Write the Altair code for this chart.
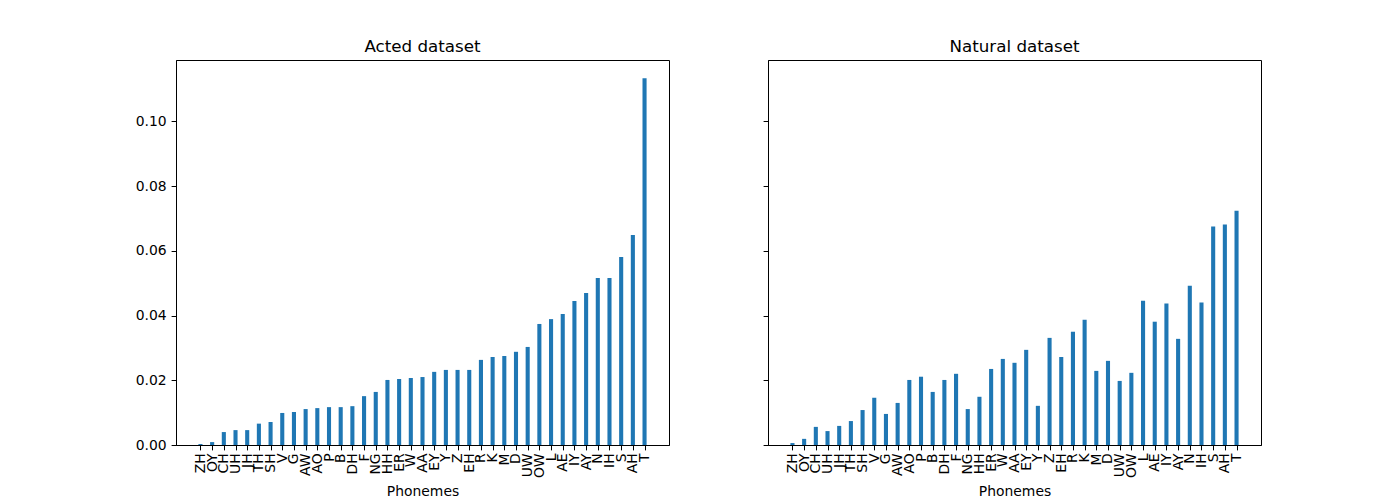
import altair as alt
import pandas as pd

phonemes = ["ZH", "OY", "CH", "UH", "JH", "TH", "SH", "V", "G", "AW", "AO", "P", "B", "DH",
            "F", "NG", "HH", "ER", "W", "AA", "EY", "Y", "Z", "EH", "R", "K", "M", "D", "UW",
            "OW", "L", "AE", "IY", "AY", "N", "IH", "S", "AH", "T"]

acted = [0.0003, 0.0009, 0.0040, 0.0046, 0.0046, 0.0066, 0.0071, 0.0099, 0.0102, 0.0111,
         0.0114, 0.0117, 0.0117, 0.0120, 0.0151, 0.0164, 0.0201, 0.0204, 0.0207, 0.0210,
         0.0226, 0.0232, 0.0232, 0.0232, 0.0263, 0.0272, 0.0275, 0.0288, 0.0303, 0.0374,
         0.0389, 0.0405, 0.0445, 0.0470, 0.0516, 0.0516, 0.0581, 0.0649, 0.1133]

natural = [0.0006, 0.0019, 0.0056, 0.0043, 0.0059, 0.0074, 0.0108, 0.0146, 0.0096, 0.0130,
           0.0201, 0.0211, 0.0164, 0.0201, 0.0220, 0.0111, 0.0149, 0.0235, 0.0266, 0.0254,
           0.0294, 0.0121, 0.0331, 0.0272, 0.0350, 0.0387, 0.0229, 0.0260, 0.0198, 0.0223,
           0.0446, 0.0381, 0.0437, 0.0328, 0.0492, 0.0440, 0.0675, 0.0681, 0.0724]

titles = ["Acted dataset", "Natural dataset"]
y_ticks = [0.0, 0.02, 0.04, 0.06, 0.08, 0.10]

FONT = "DejaVu Sans"
W, H = 493, 385
YMAX = max(acted) * 1.05
N = len(phonemes)
HALF = 0.175
MARGIN = 0.05 * ((N - 1) + 2 * HALF)
XDOM = [-HALF - MARGIN, (N - 1) + HALF + MARGIN]

label_expr = "[" + ",".join("'%s'" % p for p in phonemes) + "][datum.value]"


def panel(values, title, show_labels):
    df = pd.DataFrame({"phoneme": phonemes, "value": values, "idx": list(range(N))})
    return alt.Chart(df, title=alt.TitleParams(title, fontSize=16.7, fontWeight="normal",
                                               font=FONT, color="black", offset=4)).mark_bar(
        color="#1f77b4"
    ).transform_calculate(
        x0="datum.idx - %f" % HALF, x1="datum.idx + %f" % HALF
    ).encode(
        x=alt.X("x0:Q",
                scale=alt.Scale(domain=XDOM, nice=False, zero=False),
                axis=alt.Axis(title="Phonemes", values=list(range(N)), labelExpr=label_expr,
                              labelAngle=-90, labelFontSize=13.9,
                              titleFontSize=13.9, labelFont=FONT, titleFont=FONT,
                              labelColor="black", titleColor="black", tickColor="black",
                              domainColor="black", tickSize=4.9, labelPadding=3,
                              titleFontWeight="normal", titlePadding=7, grid=False,
                              labelOverlap=False, labelFlush=False)),
        x2="x1:Q",
        y=alt.Y("value:Q", scale=alt.Scale(domain=[0, YMAX], nice=False, zero=True),
                axis=alt.Axis(title=None, values=y_ticks, format=".2f", labels=show_labels,
                              labelFontSize=13.9, labelFont=FONT, labelColor="black",
                              tickColor="black", domainColor="black", tickSize=4.9,
                              labelPadding=4.9, grid=False, labelFlush=False)),
        y2=alt.Y2(datum=0),
        tooltip=["phoneme:N", "value:Q"],
    ).properties(width=W, height=H)


left = panel(acted, titles[0], True)
right = panel(natural, titles[1], False)

chart = alt.hconcat(left, right, spacing=99, bounds="flush").properties(
    padding={"left": 126, "top": 30, "right": 20, "bottom": 5},
    background="white",
).configure_view(stroke="black", strokeWidth=1)

chart.save("out.html", embed_options={"renderer": "svg", "actions": False})
